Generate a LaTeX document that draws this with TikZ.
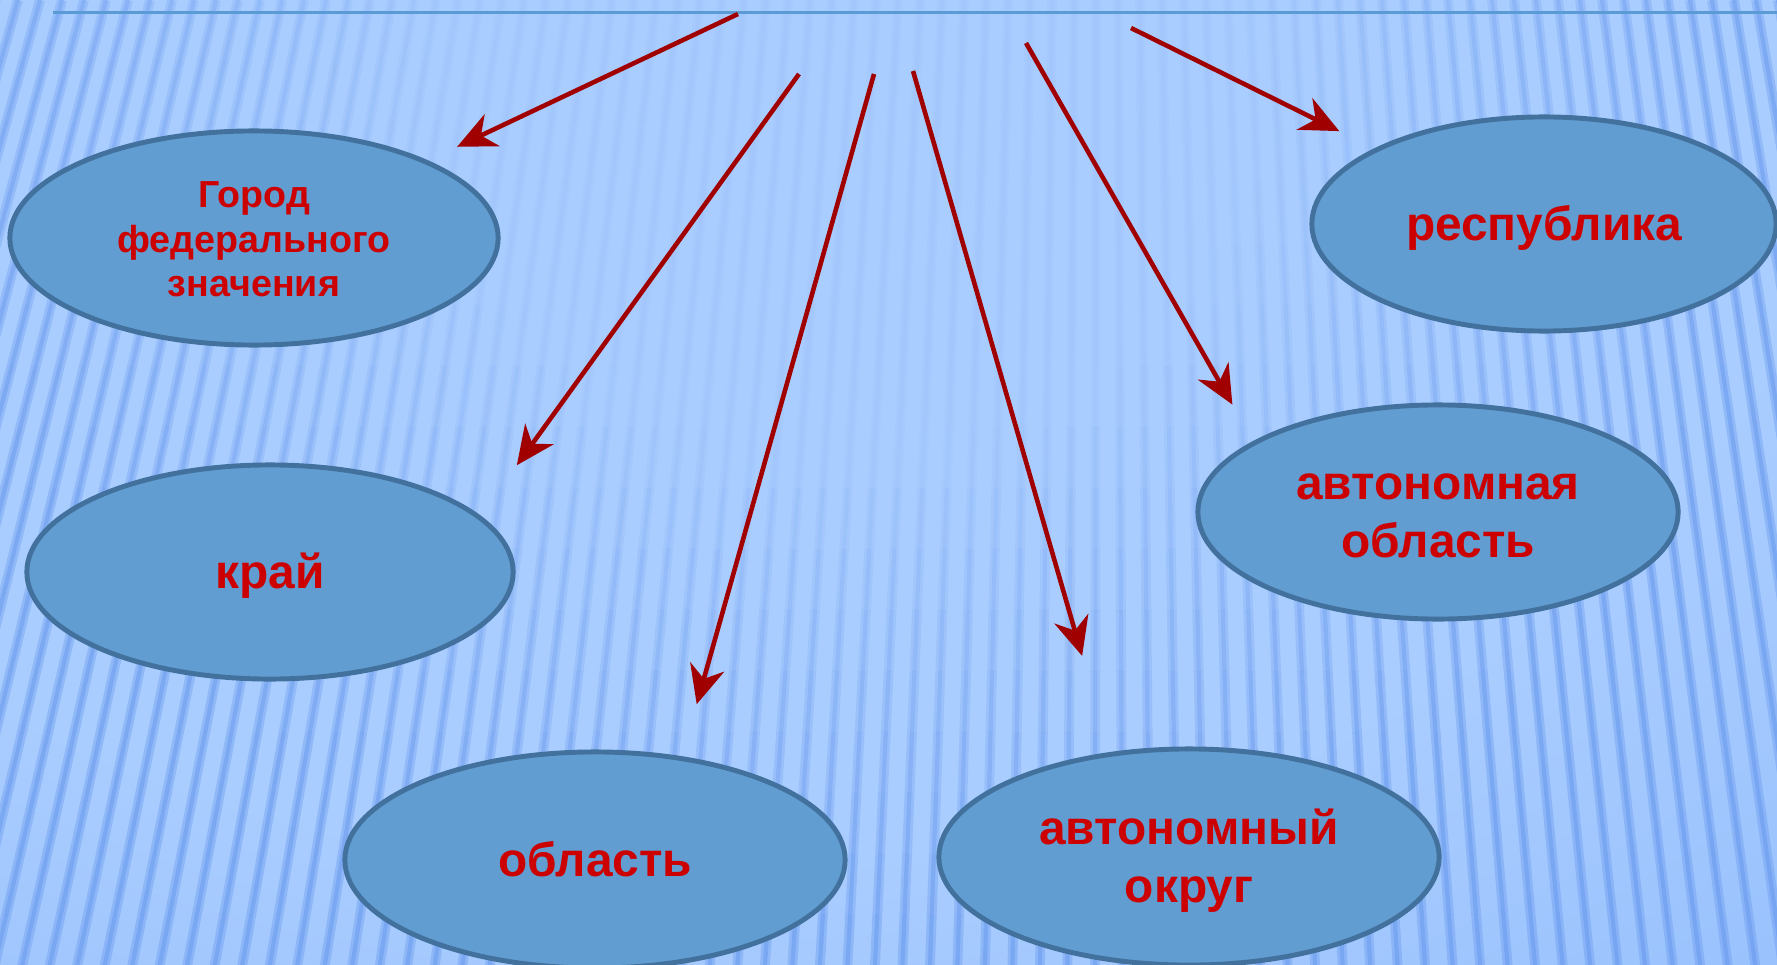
\documentclass[tikz,border=0pt]{standalone}
\usepackage{fontspec}
\setmainfont{Liberation Sans}
\usepackage{tikz}
\usetikzlibrary{arrows.meta, shapes.geometric}
\usepackage{xcolor}
\definecolor{bglight}{RGB}{170, 205, 255}
\definecolor{bgmid}{RGB}{148, 190, 252}
\definecolor{bgdark}{RGB}{117, 166, 242}
\definecolor{bgdeep}{RGB}{102, 153, 236}
\definecolor{stripeblue}{RGB}{98, 148, 236}
\definecolor{lineblue}{RGB}{91, 155, 213}
\definecolor{fillblue}{RGB}{98, 157, 209}
\definecolor{rimblue}{RGB}{65, 113, 156}
\definecolor{textred}{RGB}{204, 0, 0}
\definecolor{arrowred}{RGB}{160, 0, 0}
\pgfdeclareradialshading{bgglow}{\pgfpoint{0bp}{0bp}}{color(0bp)=(bglight); color(20bp)=(bglight); color(33bp)=(bgmid); color(42bp)=(bgdark); color(50bp)=(bgdeep)}

\begin{document}
\begin{tikzpicture}[x=0.01cm, y=-0.01cm,
  region/.style={ellipse, draw=rimblue, line width=1.4pt, fill=fillblue, inner sep=0pt,
    text=textred, font=\bfseries\fontsize{13.6}{16.6}\selectfont, align=center,
    text height=12.3pt, text depth=2.9pt},
  tworow/.style={text height=28.9pt},
  arr/.style={-{Stealth[length=11pt, width=10pt, inset=3.5pt]}, line width=1.3pt, arrowred},
  stripe/.style={stripeblue}]
  \useasboundingbox (0,0) rectangle (1777,964);

  % background
  \begin{scope}
    \clip (0,0) rectangle (1777,964);
    \shade[shading=bgglow] (-700,-850) rectangle (2100,1050);
    \foreach \x in {-400,-378,...,2200}{
      \foreach \j in {0,...,15}{
        \pgfmathsetmacro{\ya}{\j*61}
        \pgfmathsetmacro{\yb}{\ya+61}
        \pgfmathsetmacro{\xa}{\x+(\x-1100)*0.25*(\ya/964)}
        \pgfmathsetmacro{\xb}{\x+(\x-1100)*0.25*(\yb/964)}
        \pgfmathsetmacro{\op}{min(0.7,max(0.08,(sqrt(((\xa-850)/950)^2+((\ya-70)/850)^2)-0.35)*1.1))}
        \draw[stripe, draw opacity=0.5*\op, line width=2.8pt] (\xa,\ya) -- (\xb,\yb);
        \draw[stripe, draw opacity=0.6*\op, line width=1.2pt] (\xa,\ya) -- (\xb,\yb);
      }
    }
  \end{scope}
  \draw[line width=0.85pt, lineblue] (53,13) -- (1777,13);

  % subjects
  \node[region, minimum width=4.88cm, minimum height=2.14cm,
    font=\bfseries\fontsize{10.7}{12.6}\selectfont, text height=35.6pt, text depth=2.3pt]
    (gorod) at (254,238) {Город\\федерального\\значения};
  \node[region, minimum width=4.86cm, minimum height=2.14cm] (kray) at (270,572) {край};
  \node[region, minimum width=5cm, minimum height=2.16cm] (obl) at (595,860) {область};
  \node[region, tworow, minimum width=5cm, minimum height=2.16cm] (okrug) at (1189,857) {автономный\\округ};
  \node[region, tworow, minimum width=4.8cm, minimum height=2.14cm] (avtobl) at (1438,512) {автономная\\область};
  \node[region, minimum width=4.64cm, minimum height=2.14cm] (resp) at (1544,224) {республика};

  % arrows
  \coordinate (s1) at (738,14);
  \coordinate (s2) at (799,74);
  \coordinate (s3) at (874,74);
  \coordinate (s4) at (913,71);
  \coordinate (s5) at (1026,43);
  \coordinate (s6) at (1131,28);
  \draw[arr, shorten >=3.2mm] (s1) -- (gorod.24);
  \draw[arr, shorten >=6.2mm] (s2) -- (kray.15);
  \draw[arr, shorten >=5.4mm] (s3) -- (obl.50);
  \draw[arr, shorten >=10mm] (s4) -- (okrug.127);
  \draw[arr, shorten >=4.2mm] (s5) -- (avtobl.159);
  \draw[arr, shorten >=3.9mm] (s6) -- (resp.156);
\end{tikzpicture}
\end{document}
